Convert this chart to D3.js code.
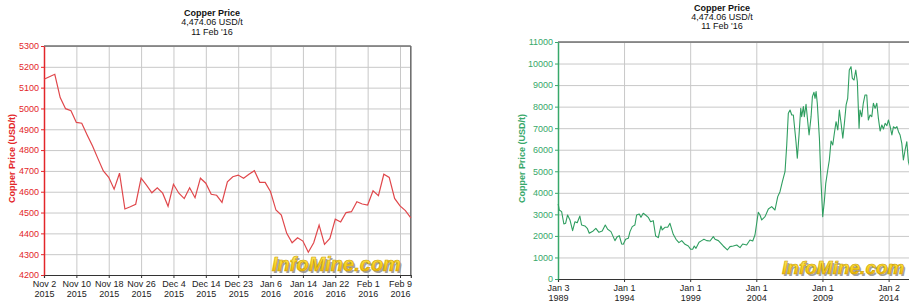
<!DOCTYPE html>
<html>
<head>
<meta charset="utf-8">
<script src="https://cdn.jsdelivr.net/npm/d3@7"></script>
<style>
  body { margin: 0; background: #fff; }
  svg { display: block; font-family: Arial, "Liberation Sans", sans-serif; }
  .grid line { stroke: #c8c8c8; stroke-width: 1; }
  .grid path { display: none; }
  .tick text { font-size: 9px; }
</style>
</head>
<body>
<div id="chart"></div>
<script>
// short term: trading days, Nov 2 2015 - Feb 11 2016
const shortDates = [
  '2015-11-02', '2015-11-03', '2015-11-04', '2015-11-05', '2015-11-06', '2015-11-09',
  '2015-11-10', '2015-11-11', '2015-11-12', '2015-11-13', '2015-11-16', '2015-11-17',
  '2015-11-18', '2015-11-19', '2015-11-20', '2015-11-23', '2015-11-24', '2015-11-25',
  '2015-11-26', '2015-11-27', '2015-11-30', '2015-12-01', '2015-12-02', '2015-12-03',
  '2015-12-04', '2015-12-07', '2015-12-08', '2015-12-09', '2015-12-10', '2015-12-11',
  '2015-12-14', '2015-12-15', '2015-12-16', '2015-12-17', '2015-12-21', '2015-12-22',
  '2015-12-23', '2015-12-24', '2015-12-29', '2015-12-30', '2016-01-04', '2016-01-05',
  '2016-01-06', '2016-01-07', '2016-01-08', '2016-01-11', '2016-01-12', '2016-01-13',
  '2016-01-14', '2016-01-15', '2016-01-18', '2016-01-19', '2016-01-20', '2016-01-21',
  '2016-01-22', '2016-01-25', '2016-01-26', '2016-01-27', '2016-01-28', '2016-01-29',
  '2016-02-01', '2016-02-02', '2016-02-03', '2016-02-04', '2016-02-05', '2016-02-08',
  '2016-02-09', '2016-02-10', '2016-02-11'
];
const shortPrices = [
  5140, 5152, 5164, 5052, 4999, 4989, 4933, 4929, 4873, 4820, 4759, 4700,
  4669, 4612, 4689, 4517, 4528, 4540, 4665, 4632, 4595, 4619, 4593, 4530,
  4636, 4593, 4567, 4619, 4571, 4665, 4641, 4588, 4583, 4549, 4648, 4672,
  4680, 4665, 4684, 4701, 4645, 4645, 4600, 4512, 4488, 4400, 4355, 4379,
  4363, 4309, 4355, 4440, 4347, 4376, 4468, 4455, 4500, 4504, 4552, 4541,
  4536, 4605, 4581, 4684, 4669, 4568, 4532, 4509, 4474.06
];
const shortYTicks = [4200, 4300, 4400, 4500, 4600, 4700, 4800, 4900, 5000, 5100, 5200, 5300];

// long term: decimal years, Jan 1989 - Feb 2016
const longYears = [
  1989.02, 1989.10, 1989.28, 1989.45, 1989.58, 1989.73, 1989.91, 1990.11, 1990.29, 1990.46,
  1990.66, 1990.79, 1991.04, 1991.22, 1991.37, 1991.67, 1991.87, 1992.10, 1992.35, 1992.58,
  1992.76, 1993.01, 1993.31, 1993.49, 1993.64, 1993.82, 1993.94, 1994.12, 1994.32, 1994.45,
  1994.62, 1994.82, 1994.95, 1995.15, 1995.28, 1995.45, 1995.63, 1995.83, 1996.01, 1996.21,
  1996.39, 1996.59, 1996.79, 1996.89, 1997.09, 1997.30, 1997.47, 1997.72, 1997.93, 1998.15,
  1998.36, 1998.61, 1998.86, 1999.04, 1999.19, 1999.31, 1999.44, 1999.67, 1999.87, 2000.04,
  2000.25, 2000.50, 2000.75, 2000.88, 2001.13, 2001.50, 2001.81, 2002.01, 2002.26, 2002.52,
  2002.77, 2002.97, 2003.27, 2003.52, 2003.73, 2003.90, 2004.15, 2004.28, 2004.41, 2004.66,
  2004.91, 2005.16, 2005.41, 2005.62, 2005.79, 2005.97, 2006.17, 2006.30, 2006.42, 2006.55,
  2006.68, 2006.80, 2007.00, 2007.10, 2007.23, 2007.36, 2007.43, 2007.56, 2007.63, 2007.76,
  2007.89, 2007.99, 2008.14, 2008.24, 2008.36, 2008.44, 2008.52, 2008.61, 2008.77, 2008.89,
  2009.02, 2009.14, 2009.25, 2009.40, 2009.52, 2009.65, 2009.78, 2009.90, 2010.03, 2010.16,
  2010.28, 2010.41, 2010.54, 2010.66, 2010.79, 2010.91, 2011.03, 2011.16, 2011.26, 2011.39,
  2011.52, 2011.64, 2011.77, 2011.84, 2011.97, 2012.09, 2012.22, 2012.35, 2012.47, 2012.60,
  2012.73, 2012.85, 2012.98, 2013.11, 2013.23, 2013.36, 2013.49, 2013.61, 2013.74, 2013.87,
  2013.99, 2014.12, 2014.25, 2014.37, 2014.50, 2014.63, 2014.75, 2014.87, 2015.00, 2015.12,
  2015.25, 2015.38, 2015.50, 2015.65, 2015.80, 2015.90, 2016.00, 2016.04, 2016.11
];
const longPrices = [
  3481, 3203, 3125, 2553, 2585, 2971, 2740, 2243, 2660, 2614,
  2925, 2507, 2461, 2353, 2121, 2229, 2353, 2167, 2229, 2507,
  2306, 2198, 1781, 1966, 2012, 1625, 1610, 1843, 1889, 2198,
  2430, 2507, 2971, 3017, 2863, 3049, 2971, 2863, 2660, 2707,
  1997, 1920, 2461, 2275, 2399, 2399, 2585, 2074, 1843, 1687,
  1781, 1610, 1532, 1378, 1378, 1532, 1424, 1703, 1781, 1843,
  1781, 1765, 1966, 1843, 1781, 1532, 1347, 1501, 1532, 1579,
  1455, 1625, 1579, 1810, 1765, 2043, 3097, 2971, 2739, 2894,
  3249, 3358, 3203, 3823, 4053, 4517, 4981, 6220, 7691, 7844,
  7612, 7612, 6373, 5602, 6684, 7922, 7534, 8000, 7534, 8109,
  7301, 6684, 7534, 8462, 8666, 8387, 8696, 8156, 6531, 4517,
  2894, 3590, 4442, 5060, 5524, 6405, 6220, 6763, 7301, 6916,
  7844, 7227, 6531, 7227, 8077, 8387, 9700, 9855, 9315, 9236,
  9700, 9158, 6995, 7844, 7534, 8156, 8541, 8541, 7379, 7612,
  7534, 8156, 7922, 8156, 7457, 6870, 7148, 6962, 7227, 7115,
  7379, 7069, 6684, 7069, 6995, 7069, 6838, 6684, 6298, 5524,
  5988, 6373, 5447, 5100, 5200, 4600, 4700, 4400, 4474.06
];
const longYTicks = [0, 1000, 2000, 3000, 4000, 5000, 6000, 7000, 8000, 9000, 10000, 11000];
const longXTicks = ['1989-01-03', '1994-01-01', '1999-01-01', '2004-01-01', '2009-01-01', '2014-01-02'];

const titleLines = ['Copper Price', '4,474.06 USD/t', "11 Feb '16"];

const width = 909;
const height = 303;
const parseDate = d3.timeParse('%Y-%m-%d');
const fmtDay = d3.timeFormat('%b %-d');
const fmtYear = d3.timeFormat('%Y');

function yearToDate (y) {
  const yr = Math.floor(y);
  const start = new Date(yr, 0, 1);
  const end = new Date(yr + 1, 0, 1);
  return new Date(+start + (y - yr) * (end - start));
}

const svg = d3.select('#chart').append('svg')
  .attr('width', width)
  .attr('height', height);

const defs = svg.append('defs');
const grad = defs.append('linearGradient')
  .attr('id', 'wm-grad')
  .attr('x1', 0).attr('y1', 0).attr('x2', 0).attr('y2', 1);
grad.append('stop').attr('offset', '0%').attr('stop-color', '#fff27a');
grad.append('stop').attr('offset', '55%').attr('stop-color', '#f9d21c');
grad.append('stop').attr('offset', '100%').attr('stop-color', '#eaa800');

function drawFrame (cfg) {
  const g = svg.append('g');
  const {x, y, left, right, top, bottom, color} = cfg;

  // grid
  g.append('g')
    .attr('class', 'grid')
    .attr('transform', `translate(0, ${bottom})`)
    .call(d3.axisBottom(x).tickValues(cfg.xTicks).tickSize(-(bottom - top)).tickFormat(''));
  g.append('g')
    .attr('class', 'grid')
    .attr('transform', `translate(${left}, 0)`)
    .call(d3.axisLeft(y).tickValues(cfg.yTicks).tickSize(-(right - left)).tickFormat(''));

  // watermark
  const wm = g.append('g').attr('transform', `translate(${cfg.wmX}, ${cfg.wmY})`);
  wm.append('text')
    .attr('x', 1.5).attr('y', 1.5)
    .attr('fill', '#8a8a8a')
    .attr('opacity', 0.8)
    .attr('font-size', cfg.wmSize).attr('font-weight', 'bold').attr('font-style', 'italic')
    .text('InfoMine.com');
  wm.append('text')
    .attr('fill', 'url(#wm-grad)')
    .attr('stroke', '#c99a00').attr('stroke-width', 0.6)
    .attr('font-size', cfg.wmSize).attr('font-weight', 'bold').attr('font-style', 'italic')
    .text('InfoMine.com');

  // borders
  g.append('line')
    .attr('x1', left).attr('x2', cfg.borderRight ? right : width)
    .attr('y1', top).attr('y2', top)
    .attr('stroke', '#707070').attr('stroke-width', 1.6);
  if (cfg.borderRight) {
    g.append('line')
      .attr('x1', right).attr('x2', right)
      .attr('y1', top).attr('y2', bottom)
      .attr('stroke', '#707070').attr('stroke-width', 1.6);
  }

  // x axis
  const xAxis = g.append('g')
    .attr('transform', `translate(0, ${bottom})`)
    .call(d3.axisBottom(x).tickValues(cfg.xTicks).tickSize(3).tickFormat(''));
  xAxis.select('.domain').attr('stroke', '#333').attr('stroke-width', 1.2);
  xAxis.selectAll('.tick line').attr('stroke', '#333');
  xAxis.selectAll('.tick').each(function (d, i) {
    const t = d3.select(this);
    const lines = cfg.xLabel(d, i);
    lines.forEach((s, k) => {
      t.append('text')
        .attr('y', cfg.xLabelY + k * 10)
        .attr('fill', '#222')
        .attr('text-anchor', 'middle')
        .attr('font-size', 9)
        .text(s);
    });
  });

  // y axis
  const yAxis = g.append('g')
    .attr('transform', `translate(${left}, 0)`)
    .call(d3.axisLeft(y).tickValues(cfg.yTicks).tickSize(3).tickPadding(2)
      .tickSizeOuter(0).tickFormat(d3.format('d')));
  yAxis.select('.domain').attr('stroke', color).attr('stroke-width', 1.5);
  yAxis.selectAll('.tick line').attr('stroke', color);
  yAxis.selectAll('.tick text').attr('fill', color).attr('font-size', 9);

  g.append('text')
    .attr('transform', `translate(${cfg.yLabelX}, ${(top + bottom) / 2 - 2}) rotate(-90)`)
    .attr('text-anchor', 'middle')
    .attr('fill', color)
    .attr('font-size', 9)
    .attr('font-weight', 'bold')
    .text('Copper Price (USD/t)');

  // title
  const title = g.append('text')
    .attr('text-anchor', 'middle')
    .attr('fill', '#111')
    .attr('font-size', 9);
  titleLines.forEach((s, k) => {
    title.append('tspan')
      .attr('x', cfg.titleX)
      .attr('y', cfg.titleY + k * 9.3)
      .attr('font-weight', k === 0 ? 'bold' : 'normal')
      .text(s);
  });

  return g;
}

// ---- short term chart
const sLeft = 44, sRight = 410.8, sTop = 46, sBottom = 275;
const sx = d3.scalePoint().domain(shortDates).range([sLeft, sRight]);
const sy = d3.scaleLinear().domain([4200, 5300]).range([sBottom, sTop]);

const sg = drawFrame({
  x: sx, y: sy, left: sLeft, right: sRight, top: sTop, bottom: sBottom,
  color: '#e3262a',
  xTicks: shortDates.filter((d, i) => i % 6 === 0),
  yTicks: shortYTicks,
  xLabel: d => [fmtDay(parseDate(d)), fmtYear(parseDate(d))],
  xLabelY: 12,
  yLabelX: 15,
  titleX: 212, titleY: 16,
  borderRight: true,
  wmX: 272, wmY: 271, wmSize: 20
});

sg.append('path')
  .datum(shortPrices)
  .attr('fill', 'none')
  .attr('stroke', '#e0474b')
  .attr('stroke-width', 1.2)
  .attr('d', d3.line().x((d, i) => sx(shortDates[i])).y(d => sy(d)));

// ---- long term chart
const lLeft = 558, lRight = 916.5, lTop = 42, lBottom = 279;
const lx = d3.scaleTime()
  .domain([parseDate('1989-01-03'), parseDate('2016-02-11')])
  .range([lLeft, lRight]);
const ly = d3.scaleLinear().domain([0, 11000]).range([lBottom, lTop]);

const lg = drawFrame({
  x: lx, y: ly, left: lLeft, right: lRight, top: lTop, bottom: lBottom,
  color: '#37a86a',
  xTicks: longXTicks.map(parseDate),
  yTicks: longYTicks,
  xLabel: d => [fmtDay(d), fmtYear(d)],
  xLabelY: 12,
  yLabelX: 525,
  titleX: 722, titleY: 10.5,
  borderRight: false,
  wmX: 782, wmY: 274, wmSize: 19
});

lg.append('path')
  .datum(longPrices)
  .attr('fill', 'none')
  .attr('stroke', '#2f9e60')
  .attr('stroke-width', 1.1)
  .attr('stroke-linejoin', 'round')
  .attr('d', d3.line().x((d, i) => lx(yearToDate(longYears[i]))).y(d => ly(d)));
</script>
</body>
</html>
